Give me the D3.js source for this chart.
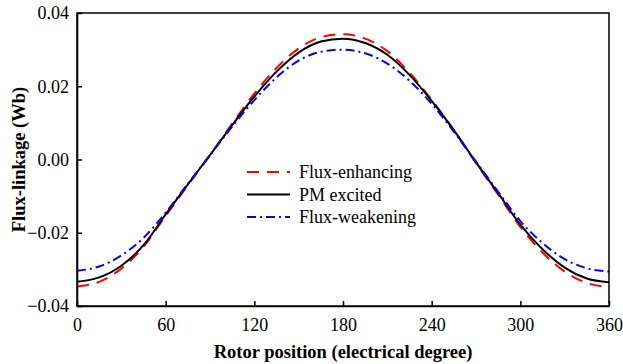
<!DOCTYPE html>
<html>
<head>
<meta charset="utf-8">
<script src="https://cdn.jsdelivr.net/npm/d3@7"></script>
<style>
  body { margin: 0; background: #fff; }
  svg { display: block; font-family: 'Liberation Serif', 'Times New Roman', serif; }
</style>
</head>
<body>
<svg id="chart" width="623" height="364"></svg>
<script>
const angles = [0, 15, 30, 45, 60, 75, 90, 105, 120, 135, 150, 165, 180,
  195, 210, 225, 240, 255, 270, 285, 300, 315, 330, 345, 360]

const fluxEnhancing = [-0.0347, -0.0334, -0.0298, -0.0238, -0.0154, -0.0070, 0.0012, 0.0098, 0.0180,
  0.0250, 0.0303, 0.0334, 0.0342, 0.0330, 0.0296, 0.0237, 0.0163, 0.0080, -0.0010,
  -0.0096, -0.0184, -0.0254, -0.0306, -0.0337, -0.0348]

const pmExcited = [-0.0334, -0.0322, -0.0290, -0.0234, -0.0150, -0.0068, 0.0012, 0.0094, 0.0172,
  0.0240, 0.0292, 0.0322, 0.0330, 0.0318, 0.0286, 0.0231, 0.0160, 0.0080, -0.0008,
  -0.0092, -0.0178, -0.0245, -0.0295, -0.0325, -0.0335]

const fluxWeakening = [-0.0304, -0.0292, -0.0262, -0.0214, -0.0145, -0.0066, 0.0012, 0.0090, 0.0162,
  0.0224, 0.0270, 0.0294, 0.0300, 0.0290, 0.0262, 0.0215, 0.0152, 0.0076, -0.0006,
  -0.0088, -0.0168, -0.0228, -0.0272, -0.0297, -0.0306]

const xTicks = [0, 60, 120, 180, 240, 300, 360]
const yTicks = [-0.04, -0.02, 0.00, 0.02, 0.04]

const series = [
  { name: 'Flux-enhancing', values: fluxEnhancing, color: '#ff0000', dash: '12,8' },
  { name: 'PM excited', values: pmExcited, color: '#000000', dash: null },
  { name: 'Flux-weakening', values: fluxWeakening, color: '#0000ff', dash: '9,4,2,4' }
]

const margin = { top: 13, right: 14, bottom: 58, left: 77 }
const W = 623, H = 364
const iw = W - margin.left - margin.right
const ih = H - margin.top - margin.bottom

const svg = d3.select('#chart')
const g = svg.append('g').attr('transform', `translate(${margin.left},${margin.top})`)

const x = d3.scaleLinear().domain([0, 360]).range([0, iw])
const y = d3.scaleLinear().domain([-0.04, 0.04]).range([ih, 0])

g.append('defs').append('clipPath').attr('id', 'clip')
  .append('rect').attr('width', iw).attr('height', ih)

const line = d3.line()
  .x(d => x(d[0]))
  .y(d => y(d[1]))
  .curve(d3.curveMonotoneX)

const lines = g.append('g').attr('clip-path', 'url(#clip)')
series.forEach(s => {
  lines.append('path')
    .datum(angles.map((a, i) => [a, s.values[i]]))
    .attr('fill', 'none')
    .attr('stroke', s.color)
    .attr('stroke-width', 2)
    .attr('stroke-dasharray', s.dash)
    .attr('d', line)
})

// frame
g.append('rect')
  .attr('width', iw).attr('height', ih)
  .attr('fill', 'none').attr('stroke', '#000').attr('stroke-width', 1.5)

const xAxis = g.append('g')
  .attr('transform', `translate(0,${ih})`)
  .call(d3.axisBottom(x).tickValues(xTicks).tickSizeInner(-5).tickSizeOuter(0).tickPadding(12).tickFormat(d3.format('d')))
const yAxis = g.append('g')
  .call(d3.axisLeft(y).tickValues(yTicks).tickSizeInner(-5).tickSizeOuter(0).tickPadding(8).tickFormat(d3.format('.2f')))

;[xAxis, yAxis].forEach(ax => {
  ax.select('.domain').attr('stroke-width', 1.5)
  ax.selectAll('.tick line').attr('stroke-width', 1.5)
  ax.selectAll('.tick text')
    .attr('font-size', 18)
    .attr('font-family', "'Liberation Serif', serif")
    .attr('fill', '#000')
})

svg.append('text')
  .attr('x', margin.left + iw / 2)
  .attr('y', 358)
  .attr('text-anchor', 'middle')
  .attr('font-size', 18.5)
  .attr('font-weight', 'bold')
  .text('Rotor position (electrical degree)')

svg.append('text')
  .attr('transform', `translate(25,${margin.top + ih / 2}) rotate(-90)`)
  .attr('text-anchor', 'middle')
  .attr('font-size', 18.5)
  .attr('font-weight', 'bold')
  .text('Flux-linkage (Wb)')

// legend
const legend = g.append('g').attr('transform', 'translate(170,159)')
series.forEach((s, i) => {
  const row = legend.append('g').attr('transform', `translate(0,${i * 22.5})`)
  row.append('line')
    .attr('x1', 0).attr('x2', 43).attr('y1', 0).attr('y2', 0)
    .attr('stroke', s.color).attr('stroke-width', 2)
    .attr('stroke-dasharray', s.dash)
  row.append('text')
    .attr('x', 52).attr('y', 0)
    .attr('dy', '0.35em')
    .attr('font-size', 18)
    .text(s.name)
})
</script>
</body>
</html>
